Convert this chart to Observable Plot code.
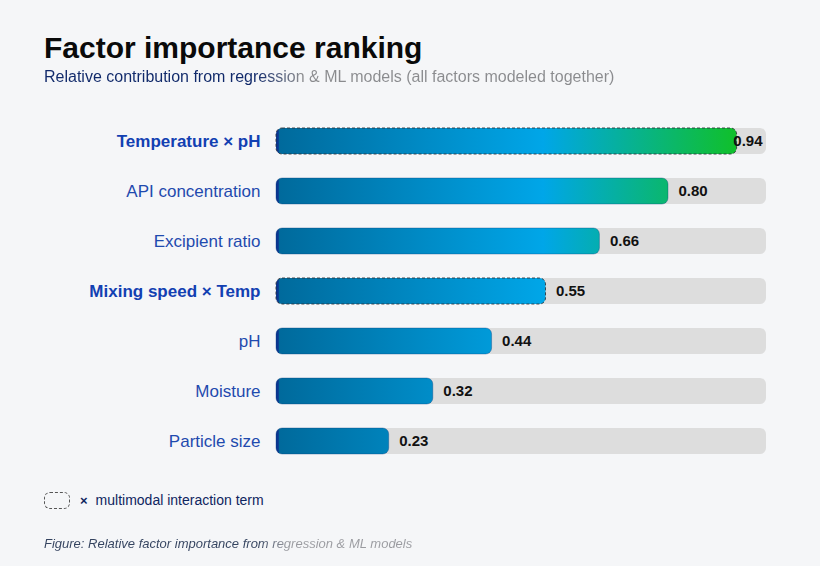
<!DOCTYPE html>
<html>
<head>
<meta charset="utf-8">
<script src="https://cdn.jsdelivr.net/npm/d3@7"></script>
<script src="https://cdn.jsdelivr.net/npm/@observablehq/plot@0.6"></script>
<style>
  html, body { margin: 0; padding: 0; }
  body {
    background: #f5f6f8;
    font-family: "Liberation Sans", Arial, Helvetica, sans-serif;
    width: 820px; height: 566px; overflow: hidden;
  }
  .head { padding-left: 44px; }
  h1 {
    margin: 31px 0 0; font-size: 30px; line-height: 34px; font-weight: 700;
    color: #0a0a0a;
  }
  .sub {
    display: inline-block; margin-top: 2px; font-size: 16px; line-height: 20px;
    background: linear-gradient(90deg, #10296a 0%, #10296a 37%, #8a8b8e 45%, #8a8b8e 100%);
    -webkit-background-clip: text; background-clip: text; color: transparent;
  }
  #chart { margin-top: 13px; height: 370px; }
  #chart svg { display: block; }
  .legend {
    margin: 20px 0 0 44px; height: 20px; display: flex; align-items: center;
    font-size: 14px; color: #0f2560;
  }
  .legend .swatch {
    width: 24px; height: 15px; border: 1.3px dashed #555; border-radius: 6px; box-sizing: content-box;
  }
  .legend .times { margin-left: 10px; font-weight: 700; font-size: 13px; }
  .legend .label { margin-left: 8px; }
  .caption {
    margin: 26px 0 0 44px; display: inline-block; font-size: 13px; line-height: 16px; font-style: italic;
    background: linear-gradient(90deg, #34435f 0%, #34435f 58%, #9a9ba0 66%, #9a9ba0 100%);
    -webkit-background-clip: text; background-clip: text; color: transparent;
  }
</style>
</head>
<body>
<div class="head">
  <h1>Factor importance ranking</h1>
  <div class="sub">Relative contribution from regression &amp; ML models (all factors modeled together)</div>
</div>
<div id="chart"></div>
<div class="legend"><span class="swatch"></span><span class="times">×</span><span class="label">multimodal interaction term</span></div>
<div class="caption">Figure: Relative factor importance from regression &amp; ML models</div>

<script>
// Factors, ranked by relative importance (top = most important)
const factors = [
  "Temperature × pH",
  "API concentration",
  "Excipient ratio",
  "Mixing speed × Temp",
  "pH",
  "Moisture",
  "Particle size"
];
const importance = [0.94, 0.80, 0.66, 0.55, 0.44, 0.32, 0.23];
const isInteraction = [true, false, false, true, false, false, false];
const scaleMax = 1;

const rows = factors.map((factor, i) => ({
  factor,
  value: importance[i],
  interaction: isInteraction[i]
}));

// labels that would run past the track end are tucked inside it
const insideLabel = d => d.value > 0.9;
const fmt = d => d.value.toFixed(2);

const chart = Plot.plot({
  width: 820,
  height: 370,
  marginLeft: 276,
  marginRight: 54,
  marginTop: 16,
  marginBottom: 4,
  style: { background: "transparent", fontFamily: "'Liberation Sans', Arial, sans-serif", overflow: "visible" },
  x: { domain: [0, scaleMax], axis: null },
  y: { domain: factors, axis: null, paddingInner: 0.48, paddingOuter: 0.24 },
  marks: [
    // grey track spanning the full scale
    Plot.barX(rows, { y: "factor", x1: () => 0, x2: () => scaleMax, fill: "#dddddd", rx: 6 }),
    // main-effect bars
    Plot.barX(rows.filter(d => !d.interaction), {
      y: "factor", x1: () => 0, x2: "value", fill: "url(#bar-grad)",
      stroke: "#0a3a7a", strokeOpacity: 0.35, strokeWidth: 1, rx: 6
    }),
    // interaction-term bars, outlined with a dashed border
    Plot.barX(rows.filter(d => d.interaction), {
      y: "factor", x1: () => 0, x2: "value", fill: "url(#bar-grad)",
      stroke: "#2b2f36", strokeOpacity: 0.85, strokeWidth: 1, strokeDasharray: "3,2", rx: 6
    }),
    // factor names
    Plot.text(rows.filter(d => !d.interaction), {
      y: "factor", x: () => 0, text: "factor", dx: -16, textAnchor: "end",
      fontSize: 17, fill: "#1f4aae"
    }),
    Plot.text(rows.filter(d => d.interaction), {
      y: "factor", x: () => 0, text: "factor", dx: -16, textAnchor: "end",
      fontSize: 17, fontWeight: 700, fill: "#1240b2"
    }),
    // value labels
    Plot.text(rows.filter(d => !insideLabel(d)), {
      y: "factor", x: "value", text: fmt, dx: 10, textAnchor: "start",
      fontSize: 15, fontWeight: 700, fill: "#111111"
    }),
    Plot.text(rows.filter(insideLabel), {
      y: "factor", x: () => scaleMax, text: fmt, dx: -4, textAnchor: "end",
      fontSize: 15, fontWeight: 700, fill: "#111111"
    })
  ]
});

// horizontal colour ramp laid out along the x scale, shared by all bars
const x = chart.scale("x");
const x0 = x.apply(0);
const x1 = x.apply(d3.max(importance));
const grad = d3.select(chart).insert("defs", ":first-child")
  .append("linearGradient")
  .attr("id", "bar-grad")
  .attr("gradientUnits", "userSpaceOnUse")
  .attr("x1", x0).attr("x2", x1).attr("y1", 0).attr("y2", 0);
const edge = 2.2 / (x1 - x0);
[
  [0, "#0b3590"],
  [edge, "#0b3590"],
  [edge * 1.6, "#006a9c"],
  [0.58, "#00a6e8"],
  [1, "#10c02a"]
].forEach(([o, c]) => grad.append("stop").attr("offset", o).attr("stop-color", c));

document.getElementById("chart").appendChild(chart);
</script>
</body>
</html>
